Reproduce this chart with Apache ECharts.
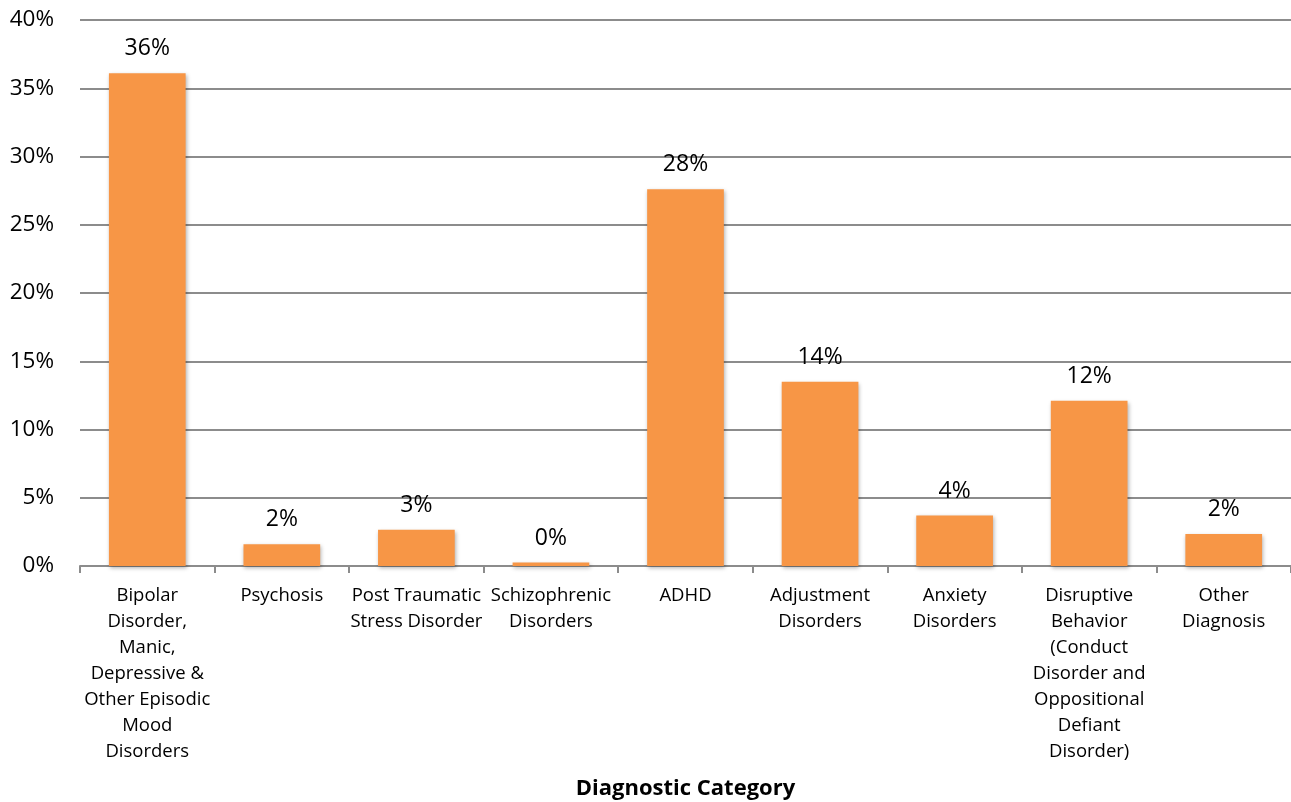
<!DOCTYPE html>
<html>
<head>
<meta charset="utf-8">
<script src="https://cdn.jsdelivr.net/npm/echarts@6/dist/echarts.min.js"></script>
<style>
  html, body { margin: 0; padding: 0; background: #fff; }
  #chart { width: 1291px; height: 802px; }
</style>
</head>
<body>
<div id="chart"></div>
<script>
// categories as in the original, line breaks kept
var categories = [
  'Bipolar\nDisorder,\nManic,\nDepressive &\nOther Episodic\nMood\nDisorders',
  'Psychosis',
  'Post Traumatic\nStress Disorder',
  'Schizophrenic\nDisorders',
  'ADHD',
  'Adjustment\nDisorders',
  'Anxiety\nDisorders',
  'Disruptive\nBehavior\n(Conduct\nDisorder and\nOppositional\nDefiant\nDisorder)',
  'Other\nDiagnosis'
];
// share of patients, percent
var shares = [36.1, 1.6, 2.65, 0.25, 27.6, 13.5, 3.7, 12.1, 2.35];
var yTicks = [0, 5, 10, 15, 20, 25, 30, 35, 40];

var font = '"Open Sans", sans-serif';
var chart = echarts.init(document.getElementById('chart'));

chart.setOption({
  animation: false,
  textStyle: { fontFamily: font },
  grid: { left: 80, right: 0, top: 20, bottom: 236, outerBoundsMode: 'none', containLabel: false },
  xAxis: {
    type: 'category',
    data: categories,
    name: 'Diagnostic Category',
    nameLocation: 'middle',
    nameGap: 212,
    nameTextStyle: { fontFamily: font, fontSize: 22, fontWeight: 'bold', color: '#000' },
    axisLine: { lineStyle: { color: '#8c8c8c', width: 2 } },
    axisTick: { show: true, length: 7, lineStyle: { color: '#8c8c8c', width: 2 } },
    axisLabel: {
      interval: 0, margin: 17, fontFamily: font, fontSize: 18.5, color: '#000',
      lineHeight: 26, align: 'center'
    }
  },
  yAxis: {
    type: 'value',
    min: yTicks[0],
    max: yTicks[yTicks.length - 1],
    interval: 5,
    axisLine: { show: false },
    axisTick: { show: false },
    splitLine: { lineStyle: { color: '#8c8c8c', width: 2 } },
    axisLabel: {
      margin: 26, fontFamily: font, fontSize: 22.5, color: '#000',
      formatter: function (v) { return v + '%'; }
    }
  },
  series: [{
    type: 'bar',
    data: shares,
    barCategoryGap: '43%',
    itemStyle: {
      color: '#f79646',
      shadowColor: 'rgba(0,0,0,0.3)',
      shadowBlur: 4,
      shadowOffsetX: 1,
      shadowOffsetY: 2
    },
    label: {
      show: true,
      position: 'top',
      distance: 13,
      fontFamily: font,
      fontSize: 23,
      color: '#000',
      formatter: function (p) { return Math.round(p.value) + '%'; }
    }
  }]
});
</script>
</body>
</html>
